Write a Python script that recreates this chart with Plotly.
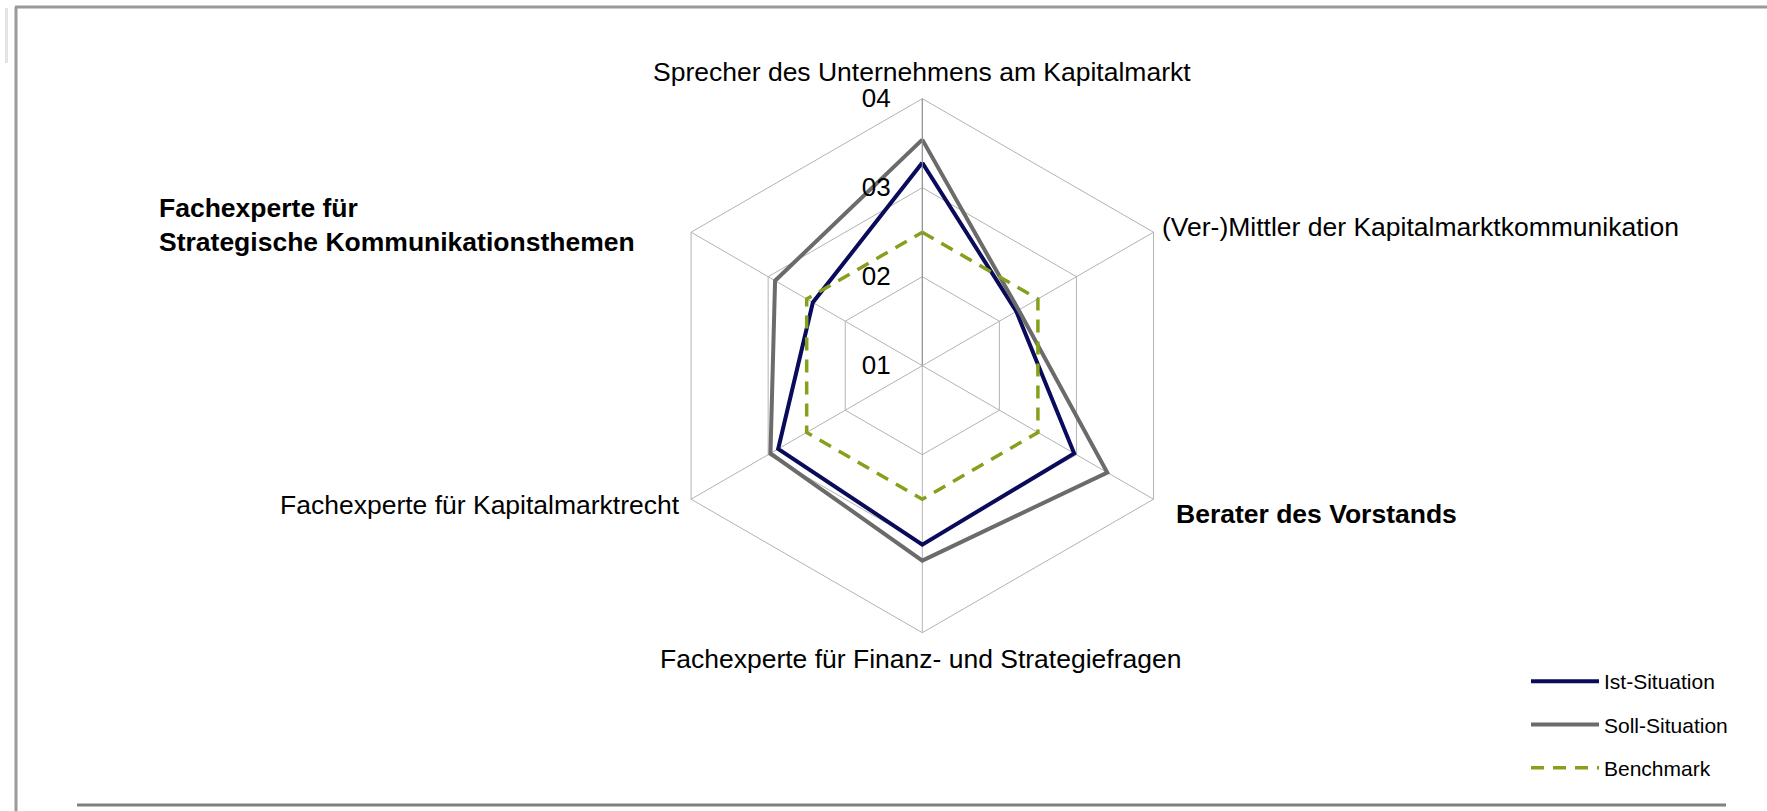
import plotly.graph_objects as go

categories = [
    "Sprecher des Unternehmens am Kapitalmarkt",
    "(Ver-)Mittler der Kapitalmarktkommunikation",
    "Berater des Vorstands",
    "Fachexperte für Finanz- und Strategiefragen",
    "Fachexperte für Kapitalmarktrecht",
    "Fachexperte für Strategische Kommunikationsthemen",
]
bold_categories = ["Berater des Vorstands", "Fachexperte für Strategische Kommunikationsthemen"]

ist_values = [3.28, 2.22, 2.97, 3.01, 2.87, 2.42]
soll_values = [3.54, 2.25, 3.40, 3.19, 2.97, 2.91]
benchmark_values = [2.5, 2.5, 2.5, 2.5, 2.5, 2.5]

radial_tickvals = [1, 2, 3, 4]
radial_ticktext = ["01", "02", "03", "04"]

series = [
    ("Ist-Situation", ist_values, "#0B0B5C", 4, "solid"),
    ("Soll-Situation", soll_values, "#6B6B6B", 4, "solid"),
    ("Benchmark", benchmark_values, "#84A01C", 3.5, "13px,9px"),
]

W, H = 1767, 811
FONT = "Liberation Sans, Arial, sans-serif"
LABEL_SIZE = 26.5

fig = go.Figure()
for name, vals, color, width, dash in series:
    fig.add_trace(go.Scatterpolar(
        r=vals + vals[:1],
        theta=categories + categories[:1],
        mode="lines",
        name=name,
        line=dict(color=color, width=width, dash=dash),
        legendgroup=name,
    ))

cx, cy, R = 922.3, 365.7, 267.0
fig.update_layout(
    width=W, height=H,
    margin=dict(l=0, r=0, t=0, b=0),
    paper_bgcolor="white",
    plot_bgcolor="white",
    font=dict(family=FONT, size=26, color="black"),
    polar=dict(
        domain=dict(x=[(cx - R) / W, (cx + R) / W], y=[1 - (cy + R) / H, 1 - (cy - R) / H]),
        gridshape="linear",
        bgcolor="white",
        radialaxis=dict(
            range=[1, 4],
            tickvals=radial_tickvals,
            ticktext=radial_ticktext,
            angle=90,
            tickangle=90,
            side="counterclockwise",
            showline=True,
            linecolor="#8C8C8C",
            linewidth=1,
            gridcolor="#B3B3B3",
            gridwidth=1,
            ticks="outside",
            ticklen=22,
            tickcolor="rgba(0,0,0,0)",
            tickfont=dict(size=26, family=FONT, color="black"),
        ),
        angularaxis=dict(
            type="category",
            categoryarray=categories,
            rotation=90,
            direction="clockwise",
            showline=True,
            linecolor="#B3B3B3",
            linewidth=1,
            gridcolor="#B3B3B3",
            gridwidth=1,
            ticks="",
            showticklabels=False,
        ),
    ),
    legend=dict(
        x=1526 / W, y=1 - 661 / H, xanchor="left", yanchor="top",
        font=dict(size=21, family=FONT, color="black"),
        itemwidth=68,
        tracegroupgap=13,
        bgcolor="rgba(0,0,0,0)",
    ),
    showlegend=True,
)

# category labels placed like the original chart (Excel-style placement)
label_places = [
    # (x px, y px, xanchor, text override with line breaks or None)
    (921.5, 72, "center", None),
    (1160, 227, "left", None),
    (1174, 514, "left", None),
    (920, 659, "center", None),
    (682, 505, "right", None),
    (157, 225.5, "left", "Fachexperte für<br>Strategische Kommunikationsthemen"),
]
for cat, (x, y, xa, override) in zip(categories, label_places):
    text = override if override else cat
    if cat in bold_categories:
        text = "<b>" + text + "</b>"
    fig.add_annotation(
        x=x / W, y=1 - y / H, xref="paper", yref="paper",
        xanchor=xa, yanchor="middle", align="left", showarrow=False,
        text=text,
        font=dict(size=LABEL_SIZE, family=FONT, color="black"),
    )

# frame lines
def px_line(x0, y0, x1, y1, color, width):
    fig.add_shape(type="line", xref="paper", yref="paper",
                  x0=x0 / W, y0=1 - y0 / H, x1=x1 / W, y1=1 - y1 / H,
                  line=dict(color=color, width=width))

px_line(15, 7, W, 7, "#9A9A9A", 3)
px_line(16, 7, 16, H, "#9A9A9A", 3)
px_line(6.5, 8, 6.5, 63, "#E3E3E3", 3)
px_line(77, 805, 1726, 805, "#808080", 3)

fig.write_html(
    "out.html",
    config={"displayModeBar": False},
    post_script="document.body.style.margin='0';document.body.style.overflow='hidden';",
)
